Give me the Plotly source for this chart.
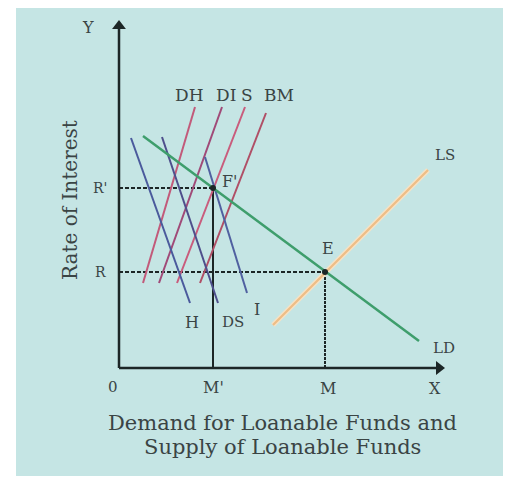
import plotly.graph_objects as go

# ---- data (units: horizontal / vertical distance from origin O) ----
R_prime, R_eq = 180, 96          # interest rates R', R
M_prime, M_eq = 94, 206          # quantities M', M

ld_x = [24, 94, 206, 300]        # LD (loanable funds demand)
ld_y = [232, 180, 96, 27]
ls_x = [154, 309]                # LS (loanable funds supply)
ls_y = [43, 198]

# downward-sloping components
h_x, h_y = [12, 71], [230, 65]
ds_x, ds_y = [43, 99], [231, 65]
i_x, i_y = [86, 128], [211, 75]

# upward-sloping components
dh_x, dh_y = [76, 24], [261, 85]
di_x, di_y = [103, 40], [261, 85]
s_x, s_y = [126, 58], [261, 85]
bm_x, bm_y = [147, 81], [255, 85]

x_axis_end, y_axis_end = 318, 340

FONT = "DejaVu Serif"
TXT = "#3a4444"
AX = "#1c2626"

fig = go.Figure()

def line(x, y, color, width=2, dash=None):
    fig.add_trace(go.Scatter(x=x, y=y, mode="lines",
                             line=dict(color=color, width=width, dash=dash),
                             hoverinfo="skip"))

# axes
line([0, x_axis_end], [0, 0], AX, 2.5)
line([0, 0], [0, y_axis_end], AX, 2.5)
fig.add_trace(go.Scatter(x=[x_axis_end + 2], y=[0], mode="markers",
                         marker=dict(symbol="triangle-right", size=12, color=AX),
                         hoverinfo="skip"))
fig.add_trace(go.Scatter(x=[0], y=[y_axis_end + 2], mode="markers",
                         marker=dict(symbol="triangle-up", size=12, color=AX),
                         hoverinfo="skip"))

# guide lines
line([0, M_prime], [R_prime, R_prime], AX, 2, "4px,2px")
line([0, M_eq], [R_eq, R_eq], AX, 2, "4px,2px")
line([M_prime, M_prime], [0, R_prime], AX, 2)
line([M_eq, M_eq], [0, R_eq], AX, 2, "3px,1px")

# component curves
line(dh_x, dh_y, "#c25a7a", 2)
line(di_x, di_y, "#a04a78", 2)
line(s_x, s_y, "#c95c7c", 2)
line(bm_x, bm_y, "#b04f66", 2)
line(h_x, h_y, "#4a5a9c", 2)
line(ds_x, ds_y, "#4e4f8c", 2)
line(i_x, i_y, "#5060a0", 2)

# aggregate curves
line(ls_x, ls_y, "#f7e2c4", 5)
line(ls_x, ls_y, "#eebd85", 2.2)
line(ld_x, ld_y, "#3e9e6c", 2.5)

# equilibrium points
fig.add_trace(go.Scatter(x=[M_prime, M_eq], y=[R_prime, R_eq], mode="markers",
                         marker=dict(size=6, color=AX), hoverinfo="skip"))

def label(x, y, text, size=16, color=TXT):
    fig.add_annotation(x=x, y=y, xref="x", yref="y", text=text, showarrow=False,
                       font=dict(family=FONT, size=size, color=color))

label(-31, 341, "Y")
label(-6, -19, "0", 15)
label(M_prime, -19, "M'")
label(M_eq + 3, -20, "M")
label(316, -20, "X")
label(-19, R_prime, "R'", 14)
label(-19, R_eq, "R", 14)
label(111, 187, "F'")
label(209, 120, "E")
label(326, 213, "LS", 15)
label(325, 20, "LD", 15)
label(73, 46, "H")
label(114, 46, "DS", 15)
label(138, 59, "I")
label(70, 273, "DH", 17)
label(107, 273, "DI", 17)
label(128, 273, "S", 17)
label(160, 273, "BM", 17)

# axis titles
fig.add_annotation(x=-49, y=168, xref="x", yref="y", text="Rate of Interest",
                   textangle=-90, showarrow=False,
                   font=dict(family=FONT, size=20, color=TXT))
fig.add_annotation(x=163, y=-55, xref="x", yref="y",
                   text="Demand for Loanable Funds and", showarrow=False,
                   font=dict(family=FONT, size=21, color=TXT))
fig.add_annotation(x=163, y=-79, xref="x", yref="y",
                   text="Supply of Loanable Funds", showarrow=False,
                   font=dict(family=FONT, size=21, color=TXT))

# background panel (page has an 8px body margin)
W, H = 495, 470
fig.add_shape(type="rect", xref="paper", yref="paper",
              x0=8 / W, x1=1, y0=1 - 468 / H, y1=1,
              fillcolor="#c5e5e4", line=dict(width=0), layer="below")

fig.update_layout(
    width=W, height=H,
    margin=dict(l=0, r=0, t=0, b=0),
    paper_bgcolor="white", plot_bgcolor="rgba(0,0,0,0)",
    showlegend=False,
    xaxis=dict(range=[-111, -111 + W], visible=False, fixedrange=True),
    yaxis=dict(range=[360 - H, 360], visible=False, fixedrange=True),
)

fig.write_html("out.html")
